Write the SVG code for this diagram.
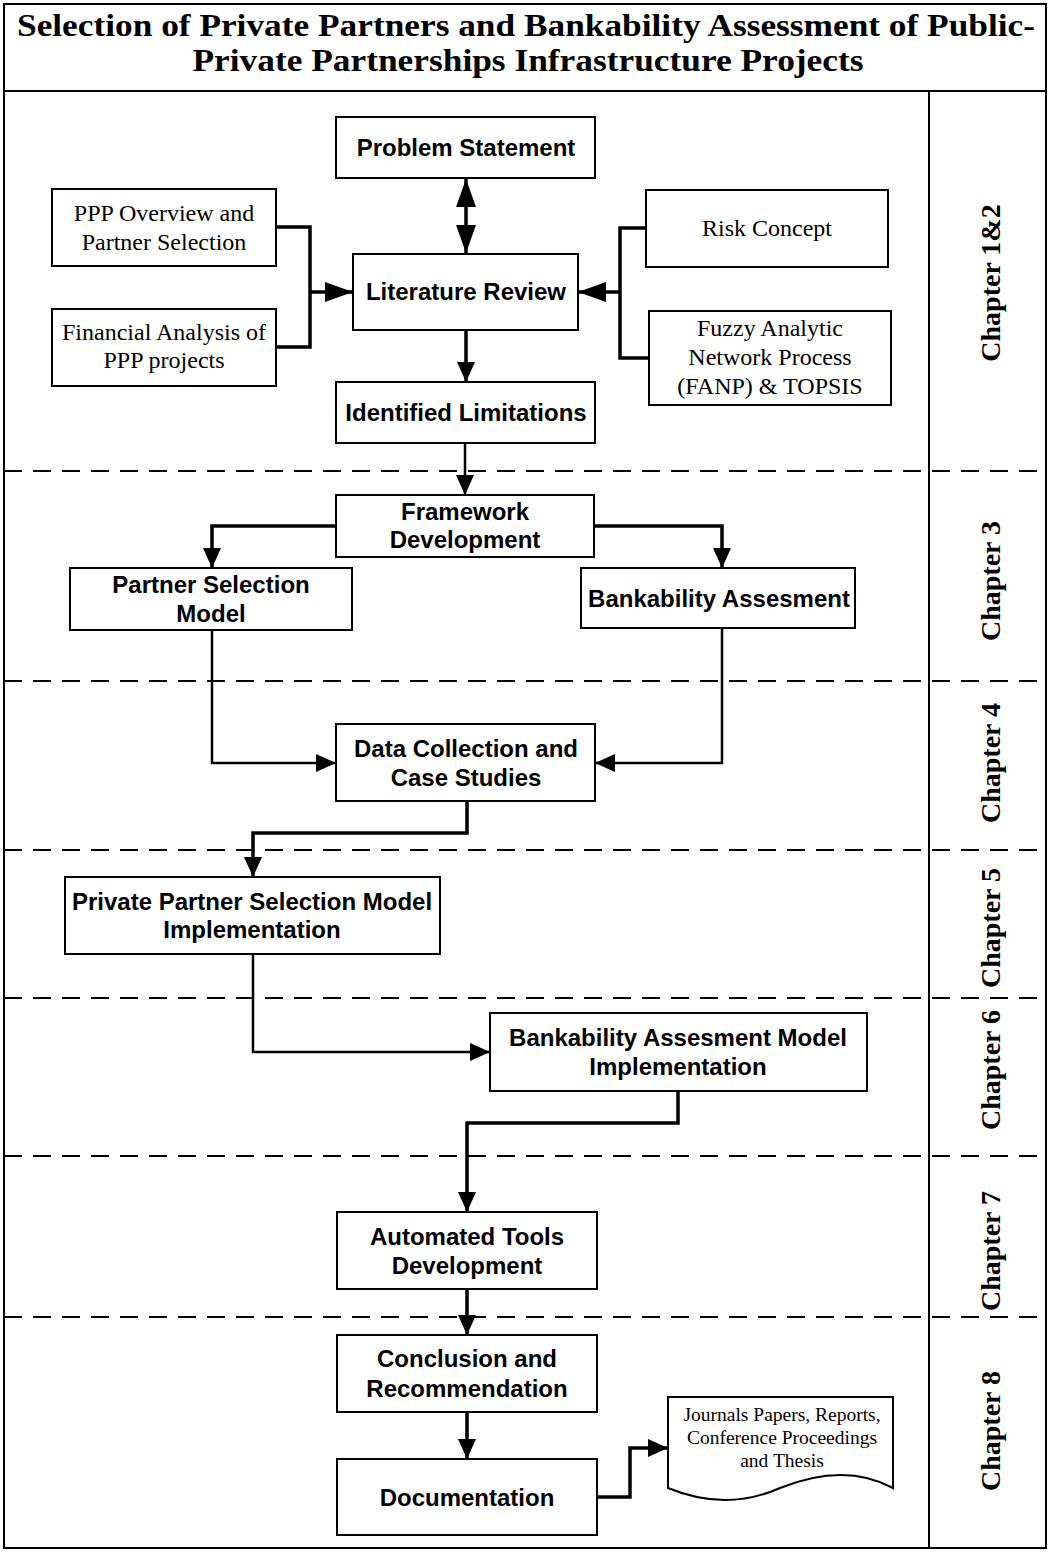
<svg xmlns="http://www.w3.org/2000/svg" width="1050" height="1552" viewBox="0 0 1050 1552">
<style>
.box{fill:#fff;stroke:#000;stroke-width:2}
.lbl{font-family:"Liberation Sans",Arial,sans-serif;font-weight:bold;font-size:24px;text-anchor:middle;fill:#000}
.ser{font-family:"Liberation Serif","Times New Roman",serif;font-size:24px;text-anchor:middle;fill:#000}
.doc{font-family:"Liberation Serif","Times New Roman",serif;font-size:19.5px;text-anchor:middle;fill:#000}
.chap{font-family:"Liberation Serif","Times New Roman",serif;font-weight:bold;font-size:28px;text-anchor:middle;fill:#000}
.title{font-family:"Liberation Serif","Times New Roman",serif;font-weight:bold;font-size:32px;text-anchor:middle;fill:#000}
.con{fill:none;stroke:#000;stroke-width:3.5}
.con2{fill:none;stroke:#000;stroke-width:2.5}
.dash{fill:none;stroke:#000;stroke-width:2;stroke-dasharray:18 11}
.frame{fill:none;stroke:#000;stroke-width:2}
</style>
<defs>
<marker id="ah" markerUnits="userSpaceOnUse" markerWidth="20" markerHeight="18" refX="20" refY="9" orient="auto-start-reverse" viewBox="0 0 20 18">
<path d="M0,0 L20,9 L0,18 Z" fill="#000"/>
</marker>
<marker id="ahL" markerUnits="userSpaceOnUse" markerWidth="28" markerHeight="20" refX="28" refY="10" orient="auto-start-reverse" viewBox="0 0 28 20">
<path d="M0,0 L28,10 L0,20 Z" fill="#000"/>
</marker>
</defs>
<rect width="1050" height="1552" fill="#fff"/>

<g id="frame">
<rect class="frame" x="4" y="4" width="1042" height="1544"/>
<line class="frame" x1="4" y1="91" x2="1046" y2="91"/>
<line class="frame" x1="929" y1="91" x2="929" y2="1548"/>
<line class="dash" x1="4" y1="471" x2="1046" y2="471"/>
<line class="dash" x1="4" y1="681" x2="1046" y2="681"/>
<line class="dash" x1="4" y1="850" x2="1046" y2="850"/>
<line class="dash" x1="4" y1="998" x2="1046" y2="998"/>
<line class="dash" x1="4" y1="1156" x2="1046" y2="1156"/>
<line class="dash" x1="4" y1="1317" x2="1046" y2="1317"/>
</g>

<g id="title">
<text class="title" x="526" y="36" textLength="1018" lengthAdjust="spacingAndGlyphs">Selection of Private Partners and Bankability Assessment of Public-</text>
<text class="title" x="528" y="71" textLength="671" lengthAdjust="spacingAndGlyphs">Private Partnerships Infrastructure Projects</text>
</g>

<g id="chapters">
<text class="chap" transform="translate(1000,283) rotate(-90)">Chapter 1&amp;2</text>
<text class="chap" transform="translate(1000,581) rotate(-90)">Chapter 3</text>
<text class="chap" transform="translate(1000,763) rotate(-90)">Chapter 4</text>
<text class="chap" transform="translate(1000,928) rotate(-90)">Chapter 5</text>
<text class="chap" transform="translate(1000,1070) rotate(-90)">Chapter 6</text>
<text class="chap" transform="translate(1000,1251) rotate(-90)">Chapter 7</text>
<text class="chap" transform="translate(1000,1431) rotate(-90)">Chapter 8</text>
</g>

<g id="connectors">
<line class="con" x1="466" y1="179" x2="466" y2="253" marker-start="url(#ahL)" marker-end="url(#ahL)"/>
<polyline class="con" points="276,227 310,227 310,347 276,347"/>
<line class="con" x1="310" y1="292" x2="353" y2="292" marker-end="url(#ahL)"/>
<polyline class="con" points="646,228 620,228 620,358 649,358"/>
<line class="con" x1="620" y1="292" x2="578" y2="292" marker-end="url(#ahL)"/>
<line class="con" x1="466" y1="330" x2="466" y2="382" marker-end="url(#ah)"/>
<line class="con2" x1="465" y1="443" x2="465" y2="495" marker-end="url(#ah)"/>
<polyline class="con" points="336,526 212,526 212,568" marker-end="url(#ah)"/>
<polyline class="con" points="594,526 722,526 722,568" marker-end="url(#ah)"/>
<polyline class="con2" points="212,630 212,763 336,763" marker-end="url(#ah)"/>
<polyline class="con2" points="722,628 722,763 595,763" marker-end="url(#ah)"/>
<polyline class="con" points="467,801 467,833 253,833 253,877" marker-end="url(#ah)"/>
<polyline class="con2" points="253,954 253,1052 490,1052" marker-end="url(#ah)"/>
<polyline class="con" points="678,1091 678,1123 467,1123 467,1212" marker-end="url(#ah)"/>
<line class="con" x1="467" y1="1289" x2="467" y2="1335" marker-end="url(#ah)"/>
<line class="con" x1="467" y1="1412" x2="467" y2="1459" marker-end="url(#ah)"/>
<polyline class="con" points="597,1497 630,1497 630,1448 668,1448" marker-end="url(#ah)"/>
</g>

<g id="problem">
<rect class="box" x="336" y="117" width="259" height="61"/>
<text class="lbl" x="466" y="156">Problem Statement</text>
</g>
<g id="ppp-overview">
<rect class="box" x="52" y="189" width="224" height="77"/>
<text class="ser" x="164" y="221">PPP Overview and</text>
<text class="ser" x="164" y="250">Partner Selection</text>
</g>
<g id="financial">
<rect class="box" x="52" y="309" width="224" height="77"/>
<text class="ser" x="164" y="340">Financial Analysis of</text>
<text class="ser" x="164" y="368">PPP projects</text>
</g>
<g id="literature">
<rect class="box" x="353" y="254" width="225" height="76"/>
<text class="lbl" x="466" y="300">Literature Review</text>
</g>
<g id="risk">
<rect class="box" x="646" y="190" width="242" height="77"/>
<text class="ser" x="767" y="236">Risk Concept</text>
</g>
<g id="fanp">
<rect class="box" x="649" y="311" width="242" height="94"/>
<text class="ser" x="770" y="336">Fuzzy Analytic</text>
<text class="ser" x="770" y="365">Network Process</text>
<text class="ser" x="770" y="394">(FANP) &amp; TOPSIS</text>
</g>
<g id="limitations">
<rect class="box" x="336" y="382" width="259" height="61"/>
<text class="lbl" x="466" y="421">Identified Limitations</text>
</g>
<g id="framework">
<rect class="box" x="336" y="495" width="258" height="62"/>
<text class="lbl" x="465" y="520">Framework</text>
<text class="lbl" x="465" y="548">Development</text>
</g>
<g id="partner-model">
<rect class="box" x="70" y="568" width="282" height="62"/>
<text class="lbl" x="211" y="593">Partner Selection</text>
<text class="lbl" x="211" y="622">Model</text>
</g>
<g id="bankability">
<rect class="box" x="581" y="568" width="274" height="60"/>
<text class="lbl" x="719" y="607">Bankability Assesment</text>
</g>
<g id="data">
<rect class="box" x="336" y="724" width="259" height="77"/>
<text class="lbl" x="466" y="757">Data Collection and</text>
<text class="lbl" x="466" y="786">Case Studies</text>
</g>
<g id="private-impl">
<rect class="box" x="65" y="877" width="375" height="77"/>
<text class="lbl" x="252" y="910">Private Partner Selection Model</text>
<text class="lbl" x="252" y="938">Implementation</text>
</g>
<g id="bank-impl">
<rect class="box" x="490" y="1013" width="377" height="78"/>
<text class="lbl" x="678" y="1046">Bankability Assesment Model</text>
<text class="lbl" x="678" y="1075">Implementation</text>
</g>
<g id="tools">
<rect class="box" x="337" y="1212" width="260" height="77"/>
<text class="lbl" x="467" y="1245">Automated Tools</text>
<text class="lbl" x="467" y="1274">Development</text>
</g>
<g id="conclusion">
<rect class="box" x="337" y="1335" width="260" height="77"/>
<text class="lbl" x="467" y="1367">Conclusion and</text>
<text class="lbl" x="467" y="1397">Recommendation</text>
</g>
<g id="documentation">
<rect class="box" x="337" y="1459" width="260" height="76"/>
<text class="lbl" x="467" y="1506">Documentation</text>
</g>
<g id="publications">
<path class="box" d="M668,1397 H893 V1488 Q845,1462 780,1488 Q726,1512 668,1488 Z"/>
<text class="doc" x="782" y="1421">Journals Papers, Reports,</text>
<text class="doc" x="782" y="1444">Conference Proceedings</text>
<text class="doc" x="782" y="1467">and Thesis</text>
</g>
</svg>
